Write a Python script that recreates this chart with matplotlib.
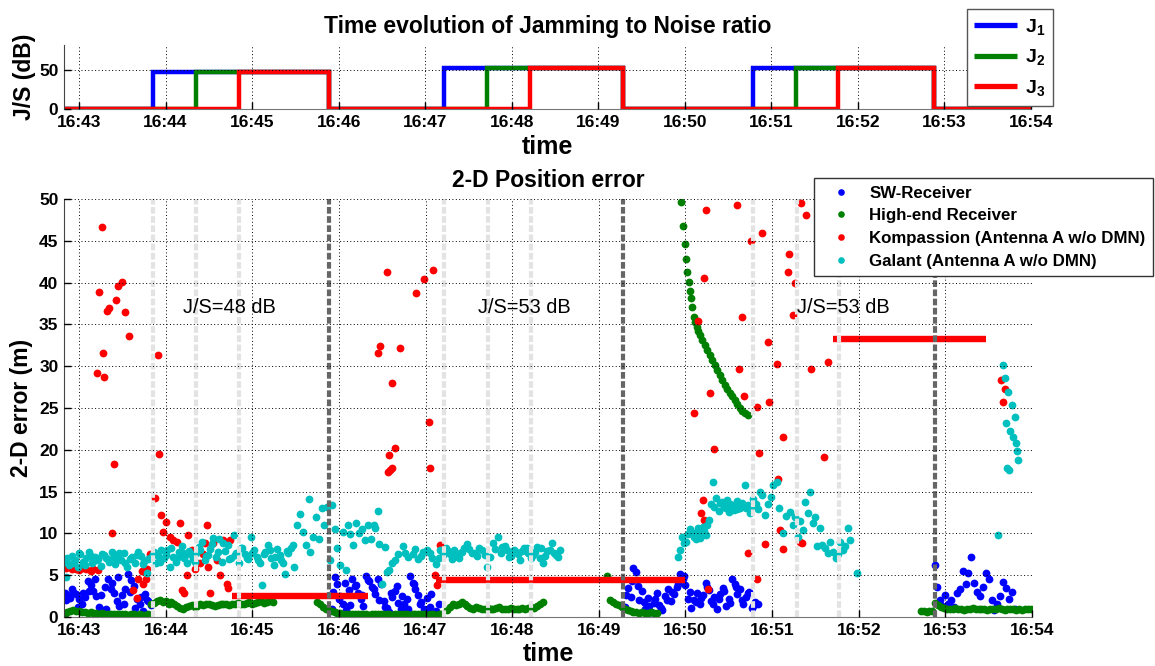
import matplotlib
matplotlib.use("Agg")
import matplotlib.pyplot as plt

plt.rcParams['font.family'] = ['Liberation Sans', 'DejaVu Sans']
plt.rcParams['mathtext.fontset'] = 'custom'
plt.rcParams['mathtext.rm'] = 'Liberation Sans'
plt.rcParams['mathtext.bf'] = 'Liberation Sans:bold'
plt.rcParams['mathtext.it'] = 'Liberation Sans:italic'

# time axis: seconds after 16:43:00
tick_pos = [0, 60, 120, 180, 240, 300, 360, 420, 480, 540, 600, 660]
tick_labels = ['16:43', '16:44', '16:45', '16:46', '16:47', '16:48',
               '16:49', '16:50', '16:51', '16:52', '16:53', '16:54']

# jammer switching (s) and J/S levels (dB)
j_names = ['$\\mathbf{J_1}$', '$\\mathbf{J_2}$', '$\\mathbf{J_3}$']
j_on = [[51, 253, 467], [81, 283, 497], [111, 313, 526]]
j_off = [173, 377, 593]
j_level = [48, 53, 53]
js_text = ['J/S=48 dB', 'J/S=53 dB', 'J/S=53 dB']
js_text_t = [72, 276, 497]

# SW-Receiver
sw_t = [-10, -8, -6, -4, -2, 0, 2, 4, 6, 8, 10, 12, 14, 16, 18, 20, 22, 24, 26, 28,
        30, 32, 34, 36, 38, 40, 42, 44, 46, 48, 50,
        -9, -5, -1, 3, 7, 11, 15, 19, 23, 27, 31, 35, 39, 43, 47,
        175, 177, 179, 181, 183, 185, 187, 189, 191, 193, 195, 197, 199, 201, 203,
        205, 207, 209, 211, 213, 215, 217, 219, 221, 223, 225, 227, 229, 231, 233,
        235, 237, 239, 241, 243, 245, 247, 249,
        176, 180, 184, 188, 192, 196, 200, 204, 208, 212, 216, 220, 224, 228, 232,
        236, 240, 244,
        378, 380, 382, 384, 386, 388, 390, 392, 394, 396, 398, 400, 402, 404, 406,
        408, 410, 412, 414, 416, 418, 420, 422, 424, 426, 428, 430, 432, 434, 436,
        438, 440, 442, 444, 446, 448, 450, 452, 454, 456, 458, 460, 462, 464, 466,
        468, 470,
        379, 383, 387, 391, 395, 399, 403, 407, 411, 415, 419, 423, 427, 431, 435,
        439, 443, 447, 451, 455, 459, 463, 467,
        593, 594, 596, 598, 600, 602, 604, 606, 608, 610, 612, 614, 616, 618, 620,
        622, 624, 626, 628, 630, 632, 634, 636, 638, 640, 642, 644, 646, 648]
sw_v = [2.9, 2.6, 2.3, 3.0, 2.7, 2.1, 1.6, 2.4, 4.3, 3.8, 3.1, 2.5, 1.2, 0.8, 3.6, 4.5,
        3.4, 2.9, 1.9, 1.3, 2.6, 3.3, 5.1, 4.4, 3.7, 2.2, 1.5, 0.7, 2.8, 1.9, 1.4,
        2.0, 3.4, 1.2, 2.9, 3.1, 4.6, 2.6, 1.0, 4.1, 4.8, 1.5, 3.0, 1.1, 2.4, 2.0,
        1.0, 4.8, 3.9, 2.5, 1.6, 0.8, 3.2, 4.5, 3.7, 2.9, 2.1, 1.3, 4.9, 4.3, 3.6,
        2.8, 4.6, 3.9, 1.9, 1.1, 0.6, 2.4, 3.1, 1.7, 0.9, 1.5, 2.2, 4.9, 4.1, 3.4,
        2.6, 1.8, 0.9, 2.3, 1.2, 0.4, 0.7, 1.6,
        3.0, 2.2, 4.1, 1.4, 3.8, 2.6, 4.4, 3.3, 2.0, 1.2, 2.9, 3.7, 2.5, 1.0, 3.9,
        1.6, 0.8, 2.7,
        1.2, 3.5, 2.4, 5.9, 5.4, 2.0, 3.1, 1.0, 2.3, 0.6, 1.7, 2.9, 1.4, 0.8, 2.5,
        3.3, 1.9, 2.7, 3.6, 5.2, 4.6, 3.8, 2.2, 1.1, 2.0, 2.9, 1.5, 2.6, 4.1, 3.2,
        1.9, 2.4, 0.9, 2.8, 3.5, 1.3, 2.1, 4.5, 3.9, 2.7, 3.3, 1.6, 2.4, 3.0, 1.1,
        1.8, 1.5,
        2.6, 4.3, 3.7, 1.8, 1.3, 2.1, 1.1, 2.0, 3.0, 4.0, 4.9, 3.0, 1.8, 2.3, 3.6,
        1.5, 2.2, 3.1, 1.7, 3.6, 2.0, 2.9, 1.3,
        6.2, 3.6, 2.0, 1.3, 2.6, 1.5, 2.0, 1.2, 2.9, 3.4, 5.5, 4.0, 5.3, 7.2, 4.1,
        3.0, 2.5, 3.6, 5.3, 4.6, 2.0, 0.8, 1.5, 2.5, 4.2, 3.5, 2.2, 3.0, 1.0]

# High-end Receiver
he_t = [-10, -8, -6, -4, -2, 0, 2, 4, 6, 8, 10, 12, 14, 16, 18, 20, 22, 24, 26, 28,
        30, 32, 34, 36, 38, 40, 42, 44, 46, 48,
        50, 52, 54, 56, 58, 60, 62, 64, 66, 68, 70, 72, 74, 76, 78, 80, 82, 84, 86,
        88, 90, 92, 94, 96, 98, 100, 102, 104, 106, 108, 110, 112, 114, 116, 118,
        120, 122, 124, 126, 128, 130, 132, 134,
        165, 167, 169, 171, 173, 175, 177, 179, 181, 183, 185, 187, 189, 191, 193,
        195, 197, 199, 201, 203, 205, 207, 209, 211, 213, 215, 217, 219, 221, 223,
        225, 227, 229, 231, 233, 235, 237, 239, 241, 243, 245, 247, 249, 251,
        255, 257, 259, 261, 263, 265, 267, 269, 271, 273, 275, 277, 279, 281, 283,
        285, 287, 289, 291, 293, 295, 297, 299, 301, 303, 305, 307, 309, 311, 313,
        315, 317, 319, 321,
        366, 368, 370, 372, 374, 376, 378, 380, 382, 384, 386, 388, 390, 392, 394,
        396, 398, 400,
        417, 418.5, 419.8, 420.5, 421.2, 422.6, 423.3, 424, 424.7, 426.1, 426.8,
        428.1, 428.8, 430.2, 431.6, 433.7, 435.1, 437.2, 438.5, 440.6, 442, 444.1,
        445.5, 447.6, 449, 451, 452.4, 454.5, 455.9, 457.9, 459.3, 461.4, 463.5,
        583, 585, 587, 589, 591, 593, 595, 597, 599, 601, 603, 605, 607, 609, 611,
        613, 615, 617, 619, 621, 623, 625, 627, 629, 631, 633, 635, 637, 639, 641,
        643, 645, 647, 649, 651, 653, 655, 657, 659]
he_v = [0.4, 0.6, 0.7, 0.8, 0.7, 0.7, 0.6, 0.6, 0.5, 0.6, 0.5, 0.5, 0.4, 0.5, 0.4, 0.4,
        0.3, 0.4, 0.3, 0.4, 0.3, 0.3, 0.2, 0.3, 0.3, 0.2, 0.3, 0.2, 0.2, 0.3,
        1.5, 1.7, 1.9, 2.0, 1.8, 1.9, 1.6, 1.8, 1.5, 1.3, 1.1, 1.0, 1.2, 1.3, 1.4,
        1.2, 1.3, 1.5, 1.4, 1.6, 1.5, 1.4, 1.3, 1.4, 1.5, 1.6, 1.5, 1.4, 1.5, 1.6,
        1.7, 1.5, 1.6, 1.7, 1.8, 1.6, 1.7, 1.8, 1.9, 1.7, 1.8, 1.9, 1.8,
        1.8, 1.5, 1.2, 1.0, 0.8, 0.7, 0.6, 0.5, 0.5, 0.4, 0.4, 0.3, 0.4, 0.3, 0.3,
        0.4, 0.3, 0.3, 0.2, 0.3, 0.3, 0.4, 0.3, 0.3, 0.4, 0.3, 0.2, 0.3, 0.3, 0.4,
        0.3, 0.3, 0.2, 0.3, 0.3, 0.4, 0.3, 0.3, 0.2, 0.3, 0.3, 0.2, 0.3, 0.3,
        0.8, 1.2, 1.5, 1.4, 1.6, 1.8, 1.5, 1.3, 1.1, 1.0, 1.2, 1.1, 0.9, 1.0, 1.1,
        1.0, 0.9, 1.1, 1.2, 1.0, 0.9, 1.0, 1.1, 1.0, 0.9, 1.0, 1.1, 1.0, 1.1, 1.2,
        1.1, 1.3, 1.6, 1.8,
        4.9, 2.0, 1.8, 1.6, 1.4, 1.2, 1.0, 0.8, 0.7, 0.6, 0.6, 0.5, 0.6, 0.5, 0.5,
        0.6, 0.5, 0.5,
        49.7, 46.8, 44.6, 42.8, 41.3, 40.1, 39.0, 38.2, 37.1, 35.9, 35.3, 34.7, 34.2,
        33.7, 33.1, 32.5, 31.9, 31.3, 30.7, 30.1, 29.5, 28.9, 28.3, 27.7, 27.3, 26.8,
        26.4, 26.0, 25.5, 25.0, 24.7, 24.4, 24.2,
        0.7, 0.7, 0.6, 0.7, 0.7, 1.7, 1.4, 1.2, 1.1, 1.0, 0.9, 1.0, 1.1, 0.9, 1.0,
        0.8, 0.9, 1.0, 1.1, 1.0, 0.9, 1.0, 0.9, 0.8, 1.0, 0.9, 1.0, 1.1, 0.9, 0.8,
        0.9, 1.0, 0.9, 0.8, 0.9, 0.8, 0.9, 1.0, 0.9]

# Kompassion (Antenna A w/o DMN): scattered fixes
ko_t = [-9, -7, -5, -2, 0, 3, 5, 8, 10, 13,
        12.5, 13.9, 15.9, 16.6, 17.3, 19.4, 20.8, 25.6, 27.0, 29.8, 31.9, 34.6, 54.7,
        24.2, 22.9,
        37.4, 40.2, 40.9, 43.6, 44.3, 46.4, 47.1, 49.2,
        52.7, 55.4, 56.8, 58.2, 60.3, 63, 65.1, 67.9, 70.0, 72.1, 74.8, 71.4, 72.7,
        75.5, 78, 80, 81.8, 83.8, 85.9, 87.3, 88.7, 89.4, 90.8, 92.8, 95.6, 97.7,
        99.8, 102.5, 104.6, 103.2,
        207.1, 208.5, 213.4, 216.8, 222.4, 233.5, 239.0, 245.3, 242.5, 214.1, 215.5,
        216.8, 214.8, 218.9, 243.2,
        250.1, 246.6, 248.0,
        434.4, 455.9, 473.2, 465.6, 433.0, 459.3, 428.8, 477.3, 483.6, 457.3, 437.2,
        460.7, 469.7, 478.0, 426.1, 487.7, 439.9, 471.1, 500.2, 503.7, 491.9, 491.2,
        496.0, 494.7, 507.1, 518.9, 516.1, 484.3, 485.7, 475.3, 487.7, 499.5, 500.9,
        432.3, 430.9, 432.9, 435.8, 469.7, 463.5,
        638.8, 641.5, 640.2]
ko_v = [5.9, 6.1, 5.7, 5.8, 5.6, 5.9, 5.7, 5.5, 5.8, 5.6,
        29.2, 38.9, 46.7, 31.6, 28.7, 36.6, 37.0, 37.9, 39.6, 40.1, 36.5, 33.6, 31.3,
        18.3, 10.1,
        3.2, 2.3, 4.5, 5.5, 4.0, 4.5, 5.8, 7.5,
        14.2, 19.5, 12.2, 10.2, 11.4, 9.6, 9.2, 9.0, 11.2, 7.5, 5.0, 3.2, 2.9, 9.8,
        8.0, 5.8, 6.5, 6.4, 7.5, 8.8, 11.0, 6.0, 2.9, 8.8, 6.8, 5.0, 9.2, 4.0, 9.2, 3.5,
        31.6, 32.4, 41.3, 28.0, 32.2, 38.8, 40.4, 41.5, 23.3, 17.3, 17.6, 17.8, 19.4,
        20.2, 17.8,
        8.6, 5.0, 3.8,
        48.7, 49.3, 45.9, 45.0, 40.5, 35.9, 35.4, 32.9, 30.3, 29.7, 26.8, 26.4, 25.1,
        25.7, 24.4, 21.5, 20.1, 19.6, 49.5, 48.1, 43.4, 41.3, 40.0, 36.1, 29.7, 30.5,
        19.1, 16.5, 10.4, 8.7, 8.1, 9.0, 8.8, 14.0, 12.5, 11.6, 3.3, 4.5, 7.6,
        28.4, 27.3, 25.7]
# Kompassion: periods where the output was frozen (start s, end s, value m)
ko_hold_t0 = [106, 247, 522]
ko_hold_t1 = [200, 420, 628]
ko_hold_v = [2.5, 4.4, 33.3]

# Galant (Antenna A w/o DMN)
ga_t = [-10, -9, -7, -5, -3, -1, 1, 3, 5, 7, 9, 11, 13, 15, 17, 19, 21, 23, 25, 27,
        29, 31, 33, 35, 37, 39, 41, 43, 45, 47, 49, 51, 53, 55, 57, 59,
        61, 63, 65, 67, 69, 71, 73, 75, 77, 79, 81, 83, 85, 87, 89, 91, 93, 95, 97,
        99, 101, 103, 105, 107, 109, 111, 113, 115, 117, 119, 121, 123, 125, 127,
        129, 131, 133, 135, 137, 139, 141, 143, 145, 147, 149, 151,
        -8, -4, 0, 4, 8, 12, 16, 20, 24, 28, 32, 36, 40, 44, 48, 52, 56, 60, 64, 68,
        72, 76, 80, 84, 88, 92, 96, 100, 104, 108, 112, 116, 120, 124, 128, 132, 136,
        140, 144, 148,
        153, 155, 157, 159, 160, 162, 164, 166, 168, 170, 172, 174, 175, 177, 179,
        181, 183, 185, 186, 188, 190, 192, 194, 196, 198, 200, 202, 204, 205, 207,
        208, 210, 212, 213, 215, 217, 219, 221,
        224.5, 228, 231.4, 235, 238.3, 241, 244.5, 247, 250, 252, 255.6, 258.4, 261,
        264, 266.7, 268.8, 272, 275.7, 279, 282.7, 284.7, 286.8, 290.3, 293, 296.5,
        299.3, 302, 305.5, 308.3, 311, 314.5, 317.3, 319.4, 321.5, 324.2, 327.7,
        330.5, 333.2,
        226, 233, 237, 243, 249, 254, 257, 260, 263, 265, 270, 274, 277, 281, 288,
        292, 295, 298, 301, 304, 307, 310, 313, 316, 320, 323, 326, 329, 332,
        415, 416.4, 417.8, 420.5, 423.3, 426, 428.8, 430.2, 432.3, 434.4, 436.5,
        437.9, 439.2, 441.3, 444.1, 446.9, 449, 451, 453.8, 455.9, 457.9, 461.4,
        463.5, 464.9, 467, 469, 471.8, 473.2, 475.3, 477.3, 479.4, 480.8, 483.6, 485,
        487.7, 489.8, 492.6, 494.7, 496, 498.1, 499.5, 501.6, 503, 505.1, 506.4,
        508.5, 509.9, 511.3, 513.4, 514.7, 516.8, 518.9, 520.3, 522.4, 524.5, 525.8,
        527.2, 529.3, 530.7, 532.8, 534.2, 539,
        440, 443, 445, 448, 450, 452, 454, 456, 459, 462, 465, 468, 470,
        419, 422, 425, 427, 429, 431, 433, 435,
        636.7, 640.2, 641.5, 642.2, 642.9, 643.6, 644.3, 645, 646.4, 647, 648.5,
        649.2, 649.9, 650.6]
ga_v = [6.6, 4.8, 6.2, 7.3, 6.8, 6.0, 7.5, 6.6, 7.0, 7.8, 6.4, 7.2, 6.9, 6.1, 7.4,
        7.0, 6.6, 7.8, 6.3, 7.1, 6.8, 7.6, 6.0, 6.9, 7.2, 6.5, 7.8, 7.3, 6.7, 5.3,
        7.0, 7.5, 6.4, 7.3, 8.0, 7.1,
        8.0, 6.0, 7.2, 6.6, 7.8, 8.5, 7.1, 6.4, 7.5, 6.9, 7.7, 8.4, 9.0, 6.8, 7.4,
        8.1, 9.5, 7.2, 9.3, 6.6, 7.9, 8.6, 7.0, 9.8, 7.6, 6.5, 8.2, 7.5, 6.9, 9.6,
        8.0, 7.2, 6.4, 3.8, 7.8, 8.6, 7.0, 6.2, 8.1, 7.4, 6.5, 5.1, 7.7, 8.3, 6.0, 11.0,
        7.0, 6.4, 7.7, 6.2, 7.3, 6.8, 7.5, 6.9, 7.2, 7.6, 6.5, 7.0, 7.4, 6.3, 6.9,
        7.8, 6.6, 7.4, 8.2, 7.0, 7.6, 7.9, 6.6, 8.0, 7.3, 8.7, 7.8, 8.9, 6.9, 7.4,
        8.3, 7.1, 7.7, 6.8, 7.5, 8.0, 7.2, 6.8, 7.9, 8.6,
        12.3, 10.2, 8.6, 14.1, 7.8, 9.6, 12.0, 9.3, 13.0, 11.0, 13.2, 6.8, 13.4, 10.5,
        8.2, 6.2, 10.2, 5.6, 11.0, 9.9, 8.6, 11.3, 10.1, 10.5, 9.2, 11.0, 9.3, 11.0,
        10.7, 12.7, 8.7, 4.0, 8.4, 5.4, 5.6, 6.5, 6.8, 7.5,
        8.5, 7.2, 7.5, 6.9, 7.8, 8.0, 7.0, 6.3, 8.0, 7.4, 7.9, 6.9, 7.3, 7.6, 8.2,
        8.7, 7.7, 7.3, 8.0, 6.0, 7.2, 8.8, 9.6, 8.4, 8.0, 7.3, 7.9, 6.8, 8.3, 7.6,
        7.4, 8.4, 7.1, 6.5, 7.9, 8.8, 7.4, 8.0,
        7.7, 8.1, 7.3, 7.6, 7.1, 8.2, 7.5, 8.0, 7.0, 7.8, 8.1, 7.6, 8.3, 7.4, 8.1,
        7.7, 8.5, 7.2, 8.0, 7.5, 7.9, 8.2, 7.0, 7.8, 8.3, 7.3, 8.0, 7.6, 7.2,
        7.2, 8.0, 9.6, 9.0, 10.5, 9.6, 10.2, 9.4, 10.8, 9.8, 11.6, 13.5, 16.1, 14.2,
        13.6, 13.2, 14.0, 13.5, 12.8, 13.9, 13.0, 15.8, 13.4, 12.8, 14.1, 13.5, 15.0,
        14.6, 12.2, 13.5, 14.3, 15.8, 16.1, 13.0, 10.0, 12.1, 12.6, 11.0, 12.0, 9.6,
        11.5, 10.4, 13.8, 12.5, 15.0, 11.2, 12.0, 8.5, 10.6, 8.6, 8.2, 7.6, 9.0, 7.8,
        7.0, 7.5, 9.0, 8.0, 8.5, 10.6, 9.2, 5.3,
        13.1, 12.7, 13.8, 13.0, 12.6, 13.4, 13.2, 12.9, 13.6, 13.0, 12.5, 13.3, 12.9,
        8.8, 9.9, 10.1, 9.3, 10.6, 9.7, 10.3, 11.0,
        9.8, 30.2, 28.6, 23.2, 17.8, 26.9, 17.6, 22.3, 25.3, 21.5, 23.9, 20.8, 19.8,
        18.8]

fig = plt.figure(figsize=(11.55, 6.66), dpi=100)
ax1 = fig.add_axes([64 / 1155, 557 / 666, 967 / 1155, 64 / 666])
ax2 = fig.add_axes([64 / 1155, 49 / 666, 968 / 1155, 418 / 666])

# ---- top: J/S time evolution
colors = ['#0000ff', '#008000', '#ff0000']
for k in range(3):
    xs = [-10]
    ys = [0]
    for b in range(3):
        xs += [j_on[k][b], j_on[k][b], j_off[b], j_off[b]]
        ys += [0, j_level[b], j_level[b], 0]
    xs.append(660)
    ys.append(0)
    ax1.plot(xs, ys, color=colors[k], lw=3.2, label=j_names[k],
             solid_joinstyle='miter', solid_capstyle='butt')

ax1.set_xlim(-10.4, 660)
ax1.set_ylim(0, 82)
ax1.set_yticks([0, 50])
ax1.set_title('Time evolution of Jamming to Noise ratio', fontsize=16.5, fontweight='bold', pad=9)
ax1.set_ylabel('J/S (dB)', fontsize=16.5, fontweight='bold', labelpad=2)
ax1.set_xlabel('time', fontsize=18, fontweight='bold', labelpad=4)

leg1 = ax1.legend(loc='upper right', bbox_to_anchor=(1053 / 1155, 1 - 9 / 666),
                  bbox_transform=fig.transFigure, fontsize=14, handlelength=2.2,
                  labelspacing=0.55, borderpad=0.4, handletextpad=0.4,
                  borderaxespad=0, fancybox=False, framealpha=1)
leg1.get_frame().set_edgecolor('#555555')
leg1.get_frame().set_linewidth(1.0)
for ln in leg1.get_lines():
    ln.set_linewidth(3.8)

# ---- bottom: 2-D position error
ax2.plot(sw_t, sw_v, 'o', color='#0000ff', ms=5.6, mew=0, label='SW-Receiver')
ax2.plot(he_t, he_v, 'o', color='#008000', ms=5.6, mew=0, label='High-end Receiver')
ax2.plot(ko_t, ko_v, 'o', color='#ff0000', ms=5.6, mew=0,
         label='Kompassion (Antenna A w/o DMN)')
ax2.hlines(ko_hold_v, ko_hold_t0, ko_hold_t1, color='#ff0000', lw=4.6)
ax2.plot(ga_t, ga_v, 'o', color='#00bfbf', ms=5.6, mew=0, label='Galant (Antenna A w/o DMN)')

for k in range(3):
    for b in range(3):
        ax2.axvline(j_on[k][b], color='#e3e3e3', lw=3, linestyle=(0, (1.6, 0.6)))
for b in range(3):
    ax2.axvline(j_off[b], color='#666666', lw=3, linestyle=(0, (1.6, 0.6)))

for b in range(3):
    ax2.text(js_text_t[b], 37, js_text[b], fontsize=14.4, va='center', ha='left')

ax2.set_xlim(-10.4, 660)
ax2.set_ylim(0, 50)
ax2.set_yticks(list(range(0, 51, 5)))
ax2.set_title('2-D Position error', fontsize=16.5, fontweight='bold', pad=9)
ax2.set_ylabel('2-D error (m)', fontsize=16.5, fontweight='bold', labelpad=4)
ax2.set_xlabel('time', fontsize=18, fontweight='bold', labelpad=3)

leg2 = ax2.legend(loc='upper right', bbox_to_anchor=(1153 / 1155, 1 - 178 / 666),
                  bbox_transform=fig.transFigure, fontsize=12.2, handlelength=2.3,
                  labelspacing=0.45, borderpad=0.45, handletextpad=0.5,
                  borderaxespad=0, fancybox=False, framealpha=1, markerscale=0.85)
leg2.get_frame().set_edgecolor('#333333')
leg2.get_frame().set_linewidth(1.0)
for t in leg2.get_texts():
    t.set_fontweight('bold')

for ax in (ax1, ax2):
    ax.set_xticks(tick_pos)
    ax.set_xticklabels(tick_labels)
    ax.grid(True, color='black', linestyle=(0, (1, 2.5)), lw=0.7)
    ax.set_axisbelow(False)
    ax.spines['top'].set_visible(False)
    ax.spines['right'].set_visible(False)
    ax.spines['left'].set_color('#444444')
    ax.spines['bottom'].set_color('#777777')
    ax.tick_params(direction='in', length=5, width=1, labelsize=12.5, pad=4)
    for lab in ax.get_xticklabels() + ax.get_yticklabels():
        lab.set_fontweight('bold')

fig.savefig('out.png', dpi=100)
